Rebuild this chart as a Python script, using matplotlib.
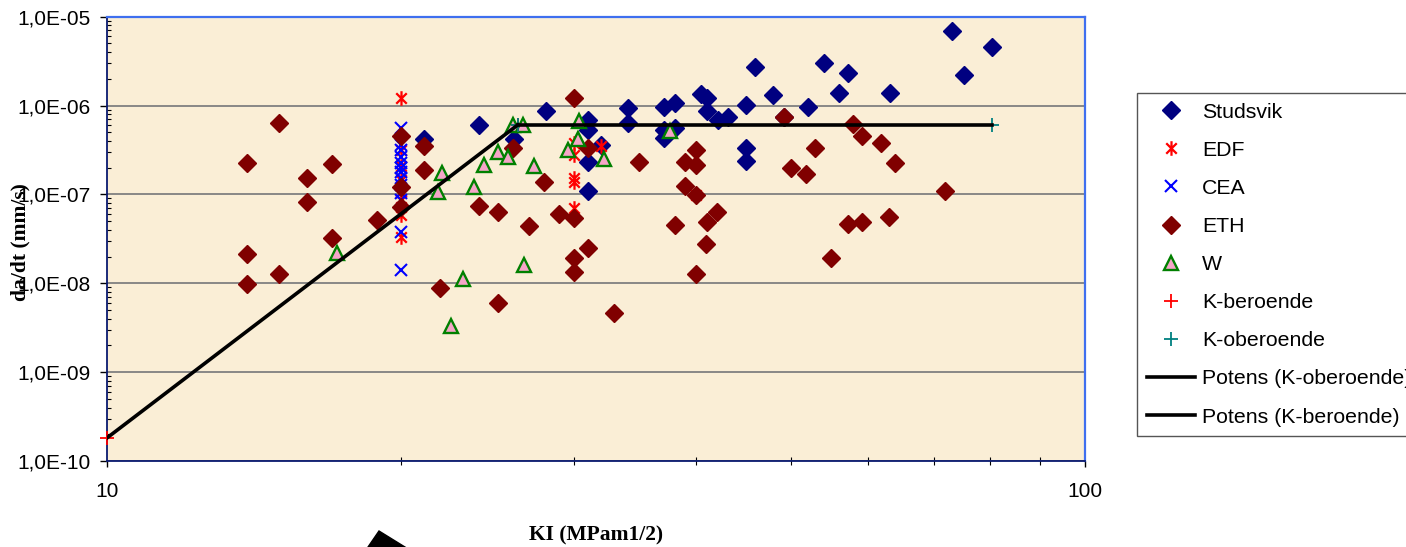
import matplotlib.pyplot as plt
import numpy as np
from matplotlib.path import Path
from matplotlib.patches import Polygon
from matplotlib.ticker import FuncFormatter, LogLocator, NullFormatter, FixedLocator

plt.rcParams['font.family'] = ['Liberation Sans', 'DejaVu Sans']

# --- data: KI (MPa m^1/2) and da/dt (mm/s) ---
studsvik_k = [21.1, 24.0, 26.1, 28.1, 31.0, 31.0, 31.0, 31.0, 32.0, 34.1, 34.1, 37.1, 38.1, 37.1,
              37.1, 38.1, 40.5, 41.1, 41.1, 42.1, 43.1, 45.0, 45.0, 45.0, 46.0, 48.0, 49.2, 52.1,
              54.1, 56.1, 57.2, 63.2, 73.1, 75.2, 80.3]
studsvik_v = [4.2e-7, 6.0e-7, 4.2e-7, 8.7e-7, 6.9e-7, 5.3e-7, 2.3e-7, 1.1e-7, 3.6e-7, 9.4e-7, 6.4e-7,
              9.6e-7, 1.07e-6, 5.3e-7, 4.3e-7, 5.6e-7, 1.35e-6, 1.22e-6, 8.7e-7, 6.9e-7, 7.4e-7,
              1.02e-6, 3.3e-7, 2.4e-7, 2.7e-6, 1.32e-6, 7.4e-7, 9.6e-7, 3.0e-6, 1.39e-6, 2.33e-6,
              1.39e-6, 6.9e-6, 2.2e-6, 4.56e-6]

edf_k = [20, 20, 20, 20, 20, 20, 20, 20, 20, 30, 30, 30, 30, 30, 32, 40, 40]
edf_v = [1.22e-6, 3.2e-7, 2.1e-7, 1.46e-7, 1.07e-7, 8.7e-8, 7.2e-8, 5.9e-8, 3.3e-8,
         3.8e-7, 2.8e-7, 1.53e-7, 1.38e-7, 7.05e-8, 3.5e-7, 2.64e-7, 9.9e-8]

cea_k = [20] * 13
cea_v = [5.6e-7, 3.6e-7, 3.2e-7, 2.64e-7, 2.26e-7, 2.0e-7, 1.8e-7, 1.53e-7, 1.28e-7,
         1.04e-7, 8.7e-8, 3.8e-8, 1.41e-8]

eth_k = [13.9, 15.0, 16.0, 16.0, 17.0, 17.0, 13.9, 15.0, 13.9, 18.9, 20, 20, 20, 21.1, 21.1,
         26.0, 24.0, 25.1, 27.0, 28.0, 30, 31.0, 35.0, 29.0, 30, 31.0, 30, 30, 21.9, 25.1,
         33.0, 39.0, 39.0, 40, 40, 40, 38.1, 41.1, 42.0, 41.0, 40, 49.2, 57.9, 59.1, 61.8,
         63.9, 52.9, 50.0, 51.9, 71.9, 57.2, 59.1, 63.0, 55.0]
eth_v = [2.26e-7, 6.4e-7, 1.53e-7, 8.2e-8, 2.2e-7, 3.2e-8, 2.14e-8, 1.28e-8, 9.9e-9, 5.2e-8,
         4.55e-7, 1.21e-7, 7.2e-8, 3.5e-7, 1.89e-7, 3.3e-7, 7.4e-8, 6.35e-8, 4.4e-8, 1.38e-7,
         1.22e-6, 3.3e-7, 2.3e-7, 6.0e-8, 5.4e-8, 2.5e-8, 1.93e-8, 1.34e-8, 8.9e-9, 6.0e-9,
         4.65e-9, 2.3e-7, 1.25e-7, 3.2e-7, 2.15e-7, 9.9e-8, 4.5e-8, 4.9e-8, 6.35e-8, 2.8e-8,
         1.28e-8, 7.4e-7, 6.2e-7, 4.55e-7, 3.8e-7, 2.26e-7, 3.3e-7, 2.0e-7, 1.7e-7, 1.09e-7,
         4.66e-8, 4.9e-8, 5.6e-8, 1.93e-8]

w_k = [17.2, 22.0, 21.8, 23.1, 22.5, 23.7, 24.3, 25.1, 25.7, 26.0, 26.6, 27.3, 26.7, 29.6,
       30.3, 30.4, 32.2, 37.6]
w_v = [2.2e-8, 1.75e-7, 1.07e-7, 1.12e-8, 3.3e-9, 1.21e-7, 2.15e-7, 3.0e-7, 2.64e-7, 6.0e-7,
       6.0e-7, 2.1e-7, 1.61e-8, 3.2e-7, 4.2e-7, 6.7e-7, 2.5e-7, 5.2e-7]

kber_k = [10, 26.3]
kber_v = [1.82e-10, 6.05e-7]
kober_k = [26.3, 80.3]
kober_v = [6.05e-7, 6.05e-7]

# power trendlines (Excel "Potens")
def power_fit(k, v):
    b, a = np.polyfit(np.log10(k), np.log10(v), 1)
    kk = np.logspace(np.log10(min(k)), np.log10(max(k)), 200)
    return kk, 10 ** a * kk ** b

fig = plt.figure(figsize=(14.06, 5.47), dpi=100)
ax = fig.add_axes([0.0761, 0.1572, 0.6956, 0.8123])
ax.set_facecolor('#FAEED6')
ax.set_xscale('log')
ax.set_yscale('log')
ax.set_xlim(10, 100)
ax.set_ylim(1e-10, 1e-5)

star = Path([(0, -1), (0, 1), (-0.72, -0.72), (0.72, 0.72), (-0.72, 0.72), (0.72, -0.72)],
            [Path.MOVETO, Path.LINETO, Path.MOVETO, Path.LINETO, Path.MOVETO, Path.LINETO])

h1, = ax.plot(studsvik_k, studsvik_v, 'D', ms=9, color='#000080', mec='#000080', zorder=3, label='Studsvik')
h2, = ax.plot(edf_k, edf_v, ls='none', marker=star, ms=10.5, mec='#FF0000', mew=1.6, zorder=4, label='EDF')
h3, = ax.plot(cea_k, cea_v, 'x', ms=9, mec='#0000FF', mew=1.5, zorder=5, label='CEA')
h4, = ax.plot(eth_k, eth_v, 'D', ms=9.2, color='#800000', mec='#800000', zorder=6, label='ETH')
h5, = ax.plot(w_k, w_v, '^', ms=9.5, mfc='#F4A6C8', mec='#008000', mew=1.7, zorder=7, label='W')
h6, = ax.plot(kber_k, kber_v, '+', ms=9.5, mec='#FF0000', mew=1.3, zorder=8, clip_on=False, label='K-beroende')
h7, = ax.plot(kober_k, kober_v, '+', ms=9.5, mec='#008080', mew=1.3, zorder=8, clip_on=False, label='K-oberoende')

kk, vv = power_fit(kober_k, kober_v)
h8, = ax.plot(kk, vv, color='black', lw=2.6, zorder=9, label='Potens (K-oberoende)')
kk, vv = power_fit(kber_k, kber_v)
h9, = ax.plot(kk, vv, color='black', lw=2.6, zorder=9, label='Potens (K-beroende)')

# axes styling
ax.yaxis.set_major_locator(FixedLocator([1e-10, 1e-9, 1e-8, 1e-7, 1e-6, 1e-5]))
ax.yaxis.set_major_formatter(FuncFormatter(lambda v, p: f"{v:.1E}".replace('.', ',')))
ax.yaxis.set_minor_locator(LogLocator(base=10, subs=np.arange(2, 10)))
ax.yaxis.set_minor_formatter(NullFormatter())
ax.xaxis.set_major_locator(FixedLocator([10, 100]))
ax.xaxis.set_major_formatter(FuncFormatter(lambda v, p: f"{v:.0f}"))
ax.xaxis.set_minor_locator(LogLocator(base=10, subs=np.arange(2, 10)))
ax.xaxis.set_minor_formatter(NullFormatter())

ax.tick_params(axis='y', which='major', direction='out', length=5, width=1, labelsize=15, pad=7)
ax.tick_params(axis='y', which='minor', direction='in', length=3, width=0.8)
ax.tick_params(axis='x', which='major', direction='out', length=4, width=1, labelsize=15, pad=11)
ax.tick_params(axis='x', which='minor', direction='inout', length=6, width=0.8)

ax.grid(True, which='major', axis='y', color='#808080', lw=1.3, zorder=1)
ax.set_axisbelow(True)

for s in ['left', 'bottom']:
    ax.spines[s].set_color('#0A1A70')
    ax.spines[s].set_linewidth(1.3)
for s in ['top', 'right']:
    ax.spines[s].set_color('#3F6FEF')
    ax.spines[s].set_linewidth(1.6)

fig.text(20 / 1406, 1 - 242 / 547, 'da/dt (mm/s)', rotation=90, ha='center', va='center',
         family='Liberation Serif', fontweight='bold', fontsize=15.5)
fig.text(596 / 1406, 1 - 535 / 547, 'KI (MPam1/2)', ha='center', va='center',
         family='Liberation Serif', fontweight='bold', fontsize=15.5)

# stray arrow head at the bottom
arrow = Polygon([(379 / 1406, 1 - 531 / 547), (413 / 1406, 1 - 552 / 547), (364.6 / 1406, 1 - 552 / 547)],
                closed=True, transform=fig.transFigure, color='black')
fig.patches.append(arrow)

leg = fig.legend(handles=[h1, h2, h3, h4, h5, h6, h7, h8, h9], loc='upper left',
                 bbox_to_anchor=(1137 / 1406, 1 - 93 / 547), bbox_transform=fig.transFigure,
                 fontsize=15.3, frameon=True, fancybox=False, framealpha=1, edgecolor='#555555',
                 borderaxespad=0, borderpad=0.45, handlelength=2.3, handletextpad=0.3,
                 labelspacing=0.9, numpoints=1)
leg.get_frame().set_linewidth(1)

fig.savefig('out.png', dpi=100)
